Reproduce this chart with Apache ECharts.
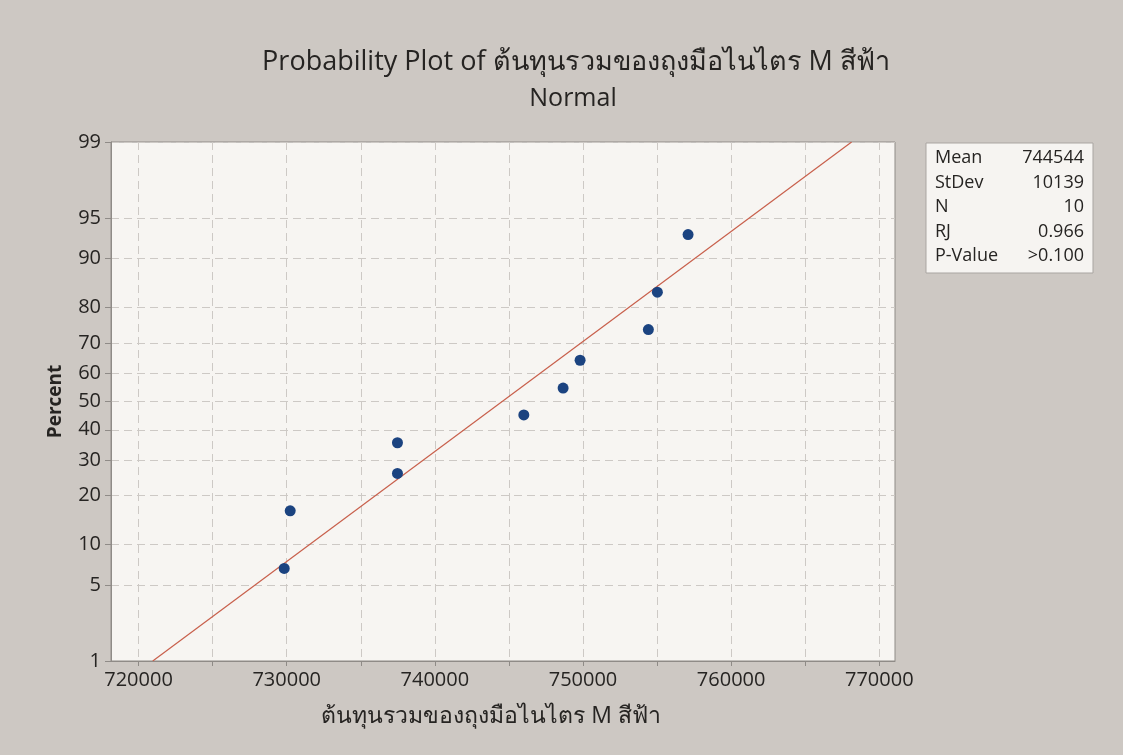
<!DOCTYPE html>
<html>
<head>
<meta charset="utf-8">
<script src="https://cdn.jsdelivr.net/npm/echarts@6/dist/echarts.min.js"></script>
<style>
html,body{margin:0;padding:0;background:#cdc8c3;}
#chart{width:1123px;height:755px;}
</style>
</head>
<body>
<div id="chart"></div>
<script>
// ---- data ----
const titleText = 'Probability Plot of ต้นทุนรวมของถุงมือไนไตร M สีฟ้า';
const subtitleText = 'Normal';
const xAxisName = 'ต้นทุนรวมของถุงมือไนไตร M สีฟ้า';
const yAxisName = 'Percent';
const costValues = [729831, 730236, 737476, 737476, 746005, 748657, 749804, 754413, 755020, 757092];
const percentValues = [6.73, 16.35, 25.96, 35.58, 45.19, 54.81, 64.42, 74.04, 83.65, 93.27];
const fitCost = [720957, 768131];
const fitPercent = [1, 99];
const percentTicks = [1, 5, 10, 20, 30, 40, 50, 60, 70, 80, 90, 95, 99];
const xTicks = [720000, 730000, 740000, 750000, 760000, 770000];
const xMinorTicks = [725000, 735000, 745000, 755000, 765000];
const statLabels = ['Mean', 'StDev', 'N', 'RJ', 'P-Value'];
const statValues = ['744544', '10139', '10', '0.966', '>0.100'];

// inverse normal CDF (Acklam) -- probability scale transform
function probit(p) {
  const a = [-3.969683028665376e+01, 2.209460984245205e+02, -2.759285104469687e+02, 1.383577518672690e+02, -3.066479806614716e+01, 2.506628277459239e+00];
  const b = [-5.447609879822406e+01, 1.615858368580409e+02, -1.556989798598866e+02, 6.680131188771972e+01, -1.328068155288572e+01];
  const c = [-7.784894002430293e-03, -3.223964580411365e-01, -2.400758277161838e+00, -2.549732539343734e+00, 4.374664141464968e+00, 2.938163982698783e+00];
  const d = [7.784695709041462e-03, 3.224671290700398e-01, 2.445134137142996e+00, 3.754408661907416e+00];
  const pl = 0.02425, ph = 1 - pl;
  let q, r;
  if (p < pl) {
    q = Math.sqrt(-2 * Math.log(p));
    return (((((c[0]*q+c[1])*q+c[2])*q+c[3])*q+c[4])*q+c[5]) / ((((d[0]*q+d[1])*q+d[2])*q+d[3])*q+1);
  } else if (p <= ph) {
    q = p - 0.5; r = q*q;
    return (((((a[0]*r+a[1])*r+a[2])*r+a[3])*r+a[4])*r+a[5])*q / (((((b[0]*r+b[1])*r+b[2])*r+b[3])*r+b[4])*r+1);
  } else {
    q = Math.sqrt(-2 * Math.log(1 - p));
    return -(((((c[0]*q+c[1])*q+c[2])*q+c[3])*q+c[4])*q+c[5]) / ((((d[0]*q+d[1])*q+d[2])*q+d[3])*q+1);
  }
}
const z = pct => probit(pct / 100);
const yTickZ = percentTicks.map(z);
const yMin = z(1), yMax = z(99);

const FONT = '"Open Sans","Noto Sans",sans-serif';
const TXT = '#262422';

const chart = echarts.init(document.getElementById('chart'), null, {renderer: 'canvas'});

const boxX = 926, boxY = 143, boxW = 167, boxH = 130;
const graphics = [{
  type: 'rect', shape: {x: boxX, y: boxY, width: boxW, height: boxH},
  style: {fill: '#f6f4f1', stroke: '#a9a5a1', lineWidth: 1}
}];
statLabels.forEach((s, i) => {
  graphics.push({type: 'text', x: boxX + 9, y: boxY + 15 + i * 24.5,
    style: {text: s, fill: TXT, font: '18px ' + FONT, textAlign: 'left', textVerticalAlign: 'middle'}});
  graphics.push({type: 'text', x: boxX + boxW - 9, y: boxY + 15 + i * 24.5,
    style: {text: statValues[i], fill: TXT, font: '18px ' + FONT, textAlign: 'right', textVerticalAlign: 'middle'}});
});
graphics.push({type: 'text', x: 491, y: 716,
  style: {text: xAxisName, fill: TXT, font: '23px ' + FONT, textAlign: 'center', textVerticalAlign: 'middle'}});

chart.setOption({
  backgroundColor: '#cdc8c3',
  animation: false,
  title: [
    {text: titleText, left: 571, top: 44, textAlign: 'center',
     textStyle: {fontFamily: FONT, fontWeight: 'normal', fontSize: 27, color: TXT}},
    {text: subtitleText, left: 568, top: 81, textAlign: 'center',
     textStyle: {fontFamily: FONT, fontWeight: 'normal', fontSize: 25, color: TXT}}
  ],
  grid: {left: 111, top: 142, right: 228, bottom: 94, show: true,
         backgroundColor: '#f7f5f2', borderColor: '#8f8b87', borderWidth: 1},
  xAxis: {
    type: 'value', min: 718140, max: 771060,
    axisLine: {show: true, onZero: false, lineStyle: {color: '#8f8b87'}},
    axisTick: {show: true, length: 5, lineStyle: {color: '#8f8b87'}, customValues: xTicks.concat(xMinorTicks)},
    axisLabel: {customValues: xTicks, fontFamily: FONT, fontSize: 20, color: TXT, margin: 9,
                formatter: v => String(Math.round(v))},
    splitLine: {show: true, lineStyle: {color: '#cdc9c5', type: [8, 5], width: 1}}
  },
  yAxis: {
    type: 'value', min: yMin, max: yMax,
    name: yAxisName, nameLocation: 'middle', nameGap: 46, nameRotate: 90,
    nameTextStyle: {fontFamily: FONT, fontSize: 19, fontWeight: 'bold', color: TXT},
    axisLine: {show: true, onZero: false, lineStyle: {color: '#8f8b87'}},
    axisTick: {show: true, length: 6, lineStyle: {color: '#8f8b87'}, customValues: yTickZ},
    axisLabel: {customValues: yTickZ, fontFamily: FONT, fontSize: 20, color: TXT, margin: 10,
      formatter: function (v) {
        let best = 0;
        yTickZ.forEach((t, i) => { if (Math.abs(t - v) < Math.abs(yTickZ[best] - v)) best = i; });
        return String(percentTicks[best]);
      }},
    splitLine: {show: true, lineStyle: {color: '#cdc9c5', type: [8, 5], width: 1}}
  },
  series: [
    {type: 'line', data: fitCost.map((c, i) => [c, z(fitPercent[i])]), symbol: 'none',
     lineStyle: {color: '#c8604c', width: 1.2}, z: 2},
    {type: 'scatter', data: costValues.map((c, i) => [c, z(percentValues[i])]),
     symbol: 'circle', symbolSize: 11, itemStyle: {color: '#1b4380', opacity: 1}, z: 3}
  ],
  graphic: graphics
});
</script>
</body>
</html>
